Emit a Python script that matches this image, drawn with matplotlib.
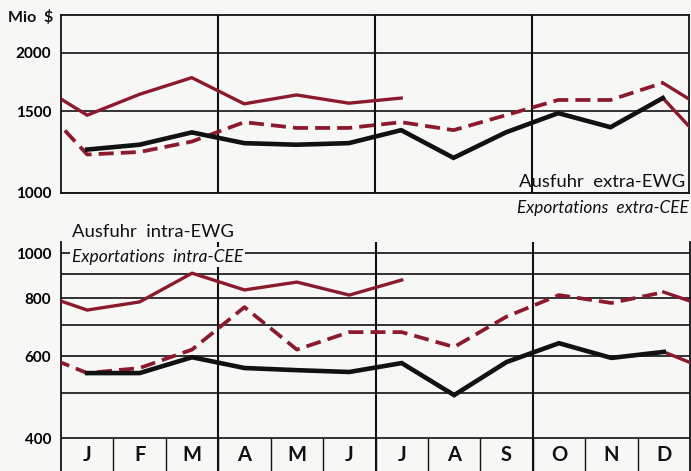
import numpy as np
import matplotlib
matplotlib.use("Agg")
import matplotlib.pyplot as plt
from matplotlib.transforms import blended_transform_factory

# ---------------- data ----------------
months = ['J', 'F', 'M', 'A', 'M', 'J', 'J', 'A', 'S', 'O', 'N', 'D']

extra_black = [1240, 1270, 1350, 1280, 1270, 1280, 1365, 1190, 1350, 1485, 1385, 1600]
extra_dashed = [1210, 1225, 1290, 1420, 1380, 1380, 1420, 1365, 1470, 1585, 1585, 1725]
extra_solid = [1470, 1630, 1770, 1555, 1625, 1560, 1600]

intra_black = [552, 552, 597, 566, 560, 555, 580, 495, 583, 640, 595, 613]
intra_dashed = [552, 566, 620, 765, 620, 676, 676, 628, 730, 812, 781, 824]
intra_solid = [754, 785, 905, 833, 866, 812, 875]

top_ticks = [1000, 1500, 2000]
top_tick_labels = ['1000', '1500', '2000']
bot_ticks = [400, 600, 800, 1000]
bot_tick_labels = ['400', '600', '800', '1000']
bot_grid = [400, 500, 600, 700, 800, 900, 1000]

# ---------------- style ----------------
W, H = 691, 471
BG = '#f7f7f5'
RED = '#8a1a2c'
BLK = '#111111'
FONT = ['Lato', 'DejaVu Sans']
plt.rcParams['font.family'] = FONT

fig = plt.figure(figsize=(W / 100, H / 100), dpi=100, facecolor=BG)


def px_axes(x0, y0, x1, y1):
    return fig.add_axes([x0 / W, 1 - y1 / H, (x1 - x0) / W, (y1 - y0) / H])


ax1 = px_axes(61, 15, 689, 193)
ax2 = px_axes(61, 242, 690, 471)

xc = np.arange(12) + 0.5


def draw_series(ax, black, dashed, solid):
    # black: earliest year
    ax.plot(xc, black, color=BLK, lw=3.3, solid_joinstyle='miter', zorder=5)
    # dashed: following year, connected from black December
    xd = np.concatenate([[-0.5], xc])
    yd = [black[-1]] + list(dashed)
    ax.plot(xd, yd, color=RED, lw=2.7, ls=(0, (4.0, 1.9)), zorder=4)
    # solid red: latest year, connected from dashed December
    xs = np.concatenate([[-0.5], xc[:len(solid)]])
    ys = [dashed[-1]] + list(solid)
    ax.plot(xs, ys, color=RED, lw=2.4, zorder=4)
    # continuation to next January at the right edge
    ax.plot([11.5, 12.5], [black[-1], dashed[0]], color=RED, lw=2.4, zorder=4)
    ax.plot([11.5, 12.5], [dashed[-1], solid[0]], color=RED, lw=2.4, zorder=4)


for ax in (ax1, ax2):
    ax.set_facecolor(BG)
    ax.set_yscale('log')
    ax.set_xlim(0, 12)
    ax.set_xticks([])
    ax.minorticks_off()
    ax.tick_params(axis='y', length=0, pad=7, labelsize=11)

# ---- top panel ----
ax1.set_ylim(1000, 2414)
ax1.set_yticks(top_ticks)
ax1.set_yticklabels(top_tick_labels, fontweight='bold', fontsize=11)
ax1.minorticks_off()
for v in top_ticks:
    ax1.axhline(v, color=BLK, lw=1.2, zorder=2)
for q in (3, 6, 9):
    ax1.axvline(q, color=BLK, lw=1.5, zorder=2)
for s in ax1.spines.values():
    s.set_color(BLK)
    s.set_linewidth(1.3)
draw_series(ax1, extra_black, extra_dashed, extra_solid)

# ---- bottom panel ----
ymin, ymax = 340, 1056
ax2.set_ylim(ymin, ymax)
ax2.set_yticks(bot_ticks)
ax2.set_yticklabels(bot_tick_labels, fontweight='bold', fontsize=11)
ax2.minorticks_off()
for v in bot_grid:
    ax2.axhline(v, color=BLK, lw=1.2, zorder=2)
for q in (3, 6, 9):
    ax2.axvline(q, color=BLK, lw=1.5, zorder=2)
ax2.vlines(np.arange(1, 12), ymin, 400, color=BLK, lw=1.0, zorder=2)
ax2.spines['top'].set_visible(False)
ax2.spines['bottom'].set_visible(False)
for s in ('left', 'right'):
    ax2.spines[s].set_color(BLK)
    ax2.spines[s].set_linewidth(1.3)
draw_series(ax2, intra_black, intra_dashed, intra_solid)

trans = blended_transform_factory(ax2.transData, ax2.transAxes)
for i, m in enumerate(months):
    ax2.text(i + 0.5, 0.07, m, transform=trans, ha='center', va='center',
             fontsize=14.5, fontweight='bold', color=BLK)

# ---- texts ----
fig.text(53 / W, 1 - 17 / H, 'Mio  $', ha='right', va='center',
         fontsize=11.5, fontweight='bold', color=BLK)
fig.text(519 / W, 1 - 182 / H, 'Ausfuhr  extra-EWG', ha='left', va='center',
         fontsize=13.3, color=BLK)
fig.text(517 / W, 1 - 208 / H, 'Exportations  extra-CEE', ha='left', va='center',
         fontsize=12.4, style='italic', color=BLK)
fig.text(72 / W, 1 - 232 / H, 'Ausfuhr  intra-EWG', ha='left', va='center',
         fontsize=13.3, color=BLK)
fig.text(72 / W, 1 - 257 / H, 'Exportations  intra-CEE', ha='left', va='center',
         fontsize=12.6, style='italic', color=BLK, zorder=10,
         bbox=dict(facecolor=BG, edgecolor='none', pad=1.5))

fig.savefig('out.png', dpi=100, facecolor=BG)
